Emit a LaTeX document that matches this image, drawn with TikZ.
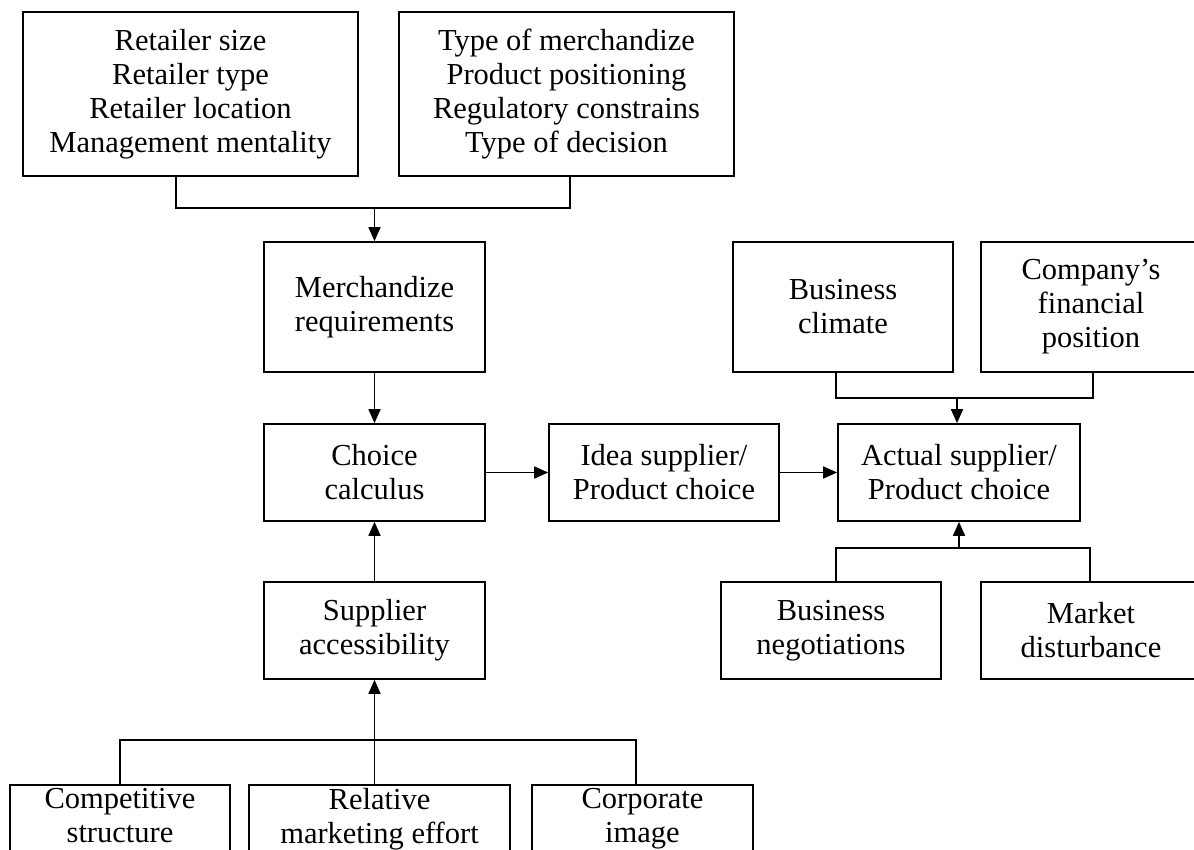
\documentclass[tikz,border=0pt]{standalone}
\usepackage{fontspec}
\setmainfont{Liberation Serif}
\usetikzlibrary{arrows.meta}
\begin{document}
\begin{tikzpicture}[x=1pt,y=-1pt,
  txt/.style={align=center, inner sep=0pt, font=\fontsize{30.5}{34}\selectfont},
  box/.style={txt, draw, line width=1.7pt, rectangle},
  conn/.style={line width=1.7pt},
  arr/.style={line width=1.7pt, -{Triangle[length=14pt,width=12pt]}}]
\fill[white] (0,0) rectangle (1194,850);
\useasboundingbox (0,0) rectangle (1194,850);
\clip (0,0) rectangle (1194,850);

% top-left group
\node[box, minimum width=335pt, minimum height=164pt] (r1) at (190.5,94) {Retailer size\\Retailer type\\Retailer location\\Management mentality};
\node[box, minimum width=335pt, minimum height=164pt] (r2) at (566.5,94) {Type of merchandize\\Product positioning\\Regulatory constrains\\Type of decision};
\node[box, minimum width=221pt, minimum height=130pt] (merch) at (374.5,307) {Merchandize\\requirements};
\node[box, minimum width=221pt, minimum height=97pt] (choice) at (374.5,472.5) {Choice\\calculus};
\node[box, minimum width=221pt, minimum height=97pt] (supp) at (374.5,630.5) {Supplier\\accessibility};

% bottom-left (cut off at the lower edge)
\node[box, minimum width=220pt, minimum height=140pt, anchor=north] (comp) at (120,784) {};
\node[txt, anchor=north] (compt) at (120,788) {Competitive\\structure};
\node[box, minimum width=261pt, minimum height=140pt, anchor=north] (rel) at (379.5,784) {};
\node[txt, anchor=north] (relt) at (379.5,788) {Relative\\marketing effort};
\node[box, minimum width=221pt, minimum height=140pt, anchor=north] (corp) at (642.5,784) {};
\node[txt, anchor=north] (corpt) at (642.5,788) {Corporate\\image};

% middle / right
\node[box, minimum width=230pt, minimum height=97pt] (idea) at (664,472.5) {Idea supplier/\\Product choice};
\node[box, minimum width=242pt, minimum height=97pt] (actual) at (959,472.5) {Actual supplier/\\Product choice};
\node[box, minimum width=220pt, minimum height=130pt] (clim) at (843,307) {Business\\climate};
\node[box, minimum width=220pt, minimum height=130pt] (company) at (1091,307) {Company’s\\financial\\position};
\node[box, minimum width=220pt, minimum height=97pt] (neg) at (831,630.5) {Business\\negotiations};
\node[box, minimum width=220pt, minimum height=97pt] (market) at (1091,630.5) {Market\\disturbance};

% junctions
\coordinate (j1) at (374.5,208);
\coordinate (j2) at (957,398);
\coordinate (j3) at (959,548);
\coordinate (j4) at (374.5,740);

% connectors
\draw[conn] ([xshift=-14.5pt]r1.south) |- (j1) -| ([xshift=3.5pt]r2.south);
\draw[arr] (j1) -- (merch.north);
\draw[arr] (merch.south) -- (choice.north);
\draw[conn] (comp.north) |- (j4) -| ([xshift=-6.5pt]corp.north);
\draw[arr] (supp.south |- rel.north) -- (supp.south);
\draw[arr] (supp.north) -- (choice.south);
\draw[arr] (choice.east) -- (idea.west);
\draw[arr] (idea.east) -- (actual.west);
\draw[conn] ([xshift=-7pt]clim.south) |- (j2) -| ([xshift=2pt]company.south);
\draw[arr] (j2) -- (actual.north -| j2);
\draw[conn] ([xshift=5pt]neg.north) |- (j3) -| ([xshift=-1pt]market.north);
\draw[arr] (j3) -- (actual.south);
\end{tikzpicture}
\end{document}
